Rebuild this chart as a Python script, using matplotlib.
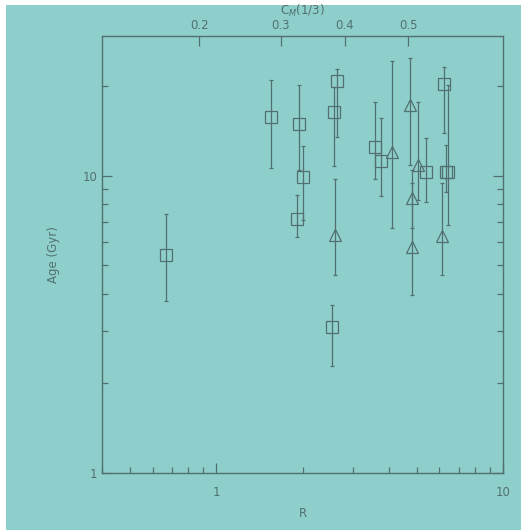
import numpy as np
import matplotlib
matplotlib.use('Agg')
import matplotlib.pyplot as plt
from matplotlib.patches import Rectangle
from matplotlib.ticker import NullFormatter, FixedLocator

# squares
sq_r = [0.671, 1.559, 1.943, 2.012, 1.917, 2.634, 2.584, 2.53, 3.588, 3.757, 5.372, 6.226, 6.313, 6.43]
sq_age = [5.41, 15.79, 14.93, 9.88, 7.17, 20.87, 16.42, 3.10, 12.52, 11.21, 10.31, 20.29, 10.27, 10.3]
sq_hi = [7.42, 20.99, 20.18, 12.59, 8.61, 22.85, 19.93, 3.67, 17.66, 15.67, 13.36, 23.26, 12.69, 20.2]
sq_lo = [3.80, 10.59, 10.45, 7.10, 6.23, 13.53, 10.78, 2.29, 9.75, 8.56, 8.18, 13.89, 8.83, 6.83]

# triangles
tr_r = [2.598, 4.106, 4.732, 5.05, 4.825, 4.825, 6.147]
tr_age = [6.32, 12.04, 17.29, 10.86, 8.43, 5.77, 6.27]
tr_hi = [9.75, 24.37, 24.83, 17.66, 10.45, 9.45, 9.45]
tr_lo = [4.63, 6.65, 10.86, 8.28, 6.67, 3.97, 4.63]

# top axis C_M(1/3)
cm_labels = ['0.2', '0.3', '0.4', '0.5']
cm_at_r = [0.874, 1.680, 2.814, 4.683]

bg = '#8ecfcc'
ink = '#52706f'

fig = plt.figure(figsize=(5.27, 5.31), dpi=100)
fig.patch.set_facecolor('white')
fig.patches.append(Rectangle((6/527, 1/531), 515/527, 525/531, transform=fig.transFigure,
                             facecolor=bg, edgecolor='none', zorder=-10))

ax = fig.add_axes([102/527, 58/531, 401/527, 437/531])
ax.set_facecolor(bg)
ax.set_xscale('log')
ax.set_yscale('log')
ax.set_xlim(0.4, 10)
ax.set_ylim(1, 29.5)

def err(v, hi, lo):
    v = np.array(v); return [v - np.array(lo), np.array(hi) - v]

ax.errorbar(sq_r, sq_age, yerr=err(sq_age, sq_hi, sq_lo), fmt='s', ms=9, mfc='none',
            mec=ink, mew=0.9, ecolor=ink, elinewidth=0.9, capsize=1.5, capthick=0.9)
ax.errorbar(tr_r, tr_age, yerr=err(tr_age, tr_hi, tr_lo), fmt='^', ms=8, mfc='none',
            mec=ink, mew=0.9, ecolor=ink, elinewidth=0.9, capsize=1.5, capthick=0.9)

for s in ax.spines.values():
    s.set_color(ink)
    s.set_linewidth(1.0)

ax.tick_params(which='both', direction='in', color=ink, labelcolor=ink, labelsize=8.5,
               right=True, top=False)
ax.tick_params(which='major', length=7, width=0.9)
ax.tick_params(which='minor', length=4, width=0.9)
ax.tick_params(axis='x', pad=9)
ax.set_xticks([1, 10])
ax.set_xticklabels(['1', '10'])
ax.set_yticks([1, 10])
ax.set_yticklabels(['1', '10'])
ax.xaxis.set_minor_formatter(NullFormatter())
ax.yaxis.set_minor_formatter(NullFormatter())

ax.set_xlabel('R', color=ink, fontsize=8.5, labelpad=6)
ax.set_ylabel('Age (Gyr)', color=ink, fontsize=8.5, labelpad=16)

top = ax.twiny()
top.set_xscale('log')
top.set_xlim(ax.get_xlim())
top.xaxis.set_major_locator(FixedLocator(cm_at_r))
top.xaxis.set_minor_locator(FixedLocator([]))
top.set_xticklabels(cm_labels)
top.tick_params(which='both', direction='in', color=ink, labelcolor=ink, labelsize=8.5,
                length=7, width=0.9, pad=3)
for s in top.spines.values():
    s.set_visible(False)
top.set_xlabel('C$_M$(1/3)', color=ink, fontsize=8.5, labelpad=3)

fig.savefig('out.png', dpi=100, facecolor=fig.get_facecolor())
